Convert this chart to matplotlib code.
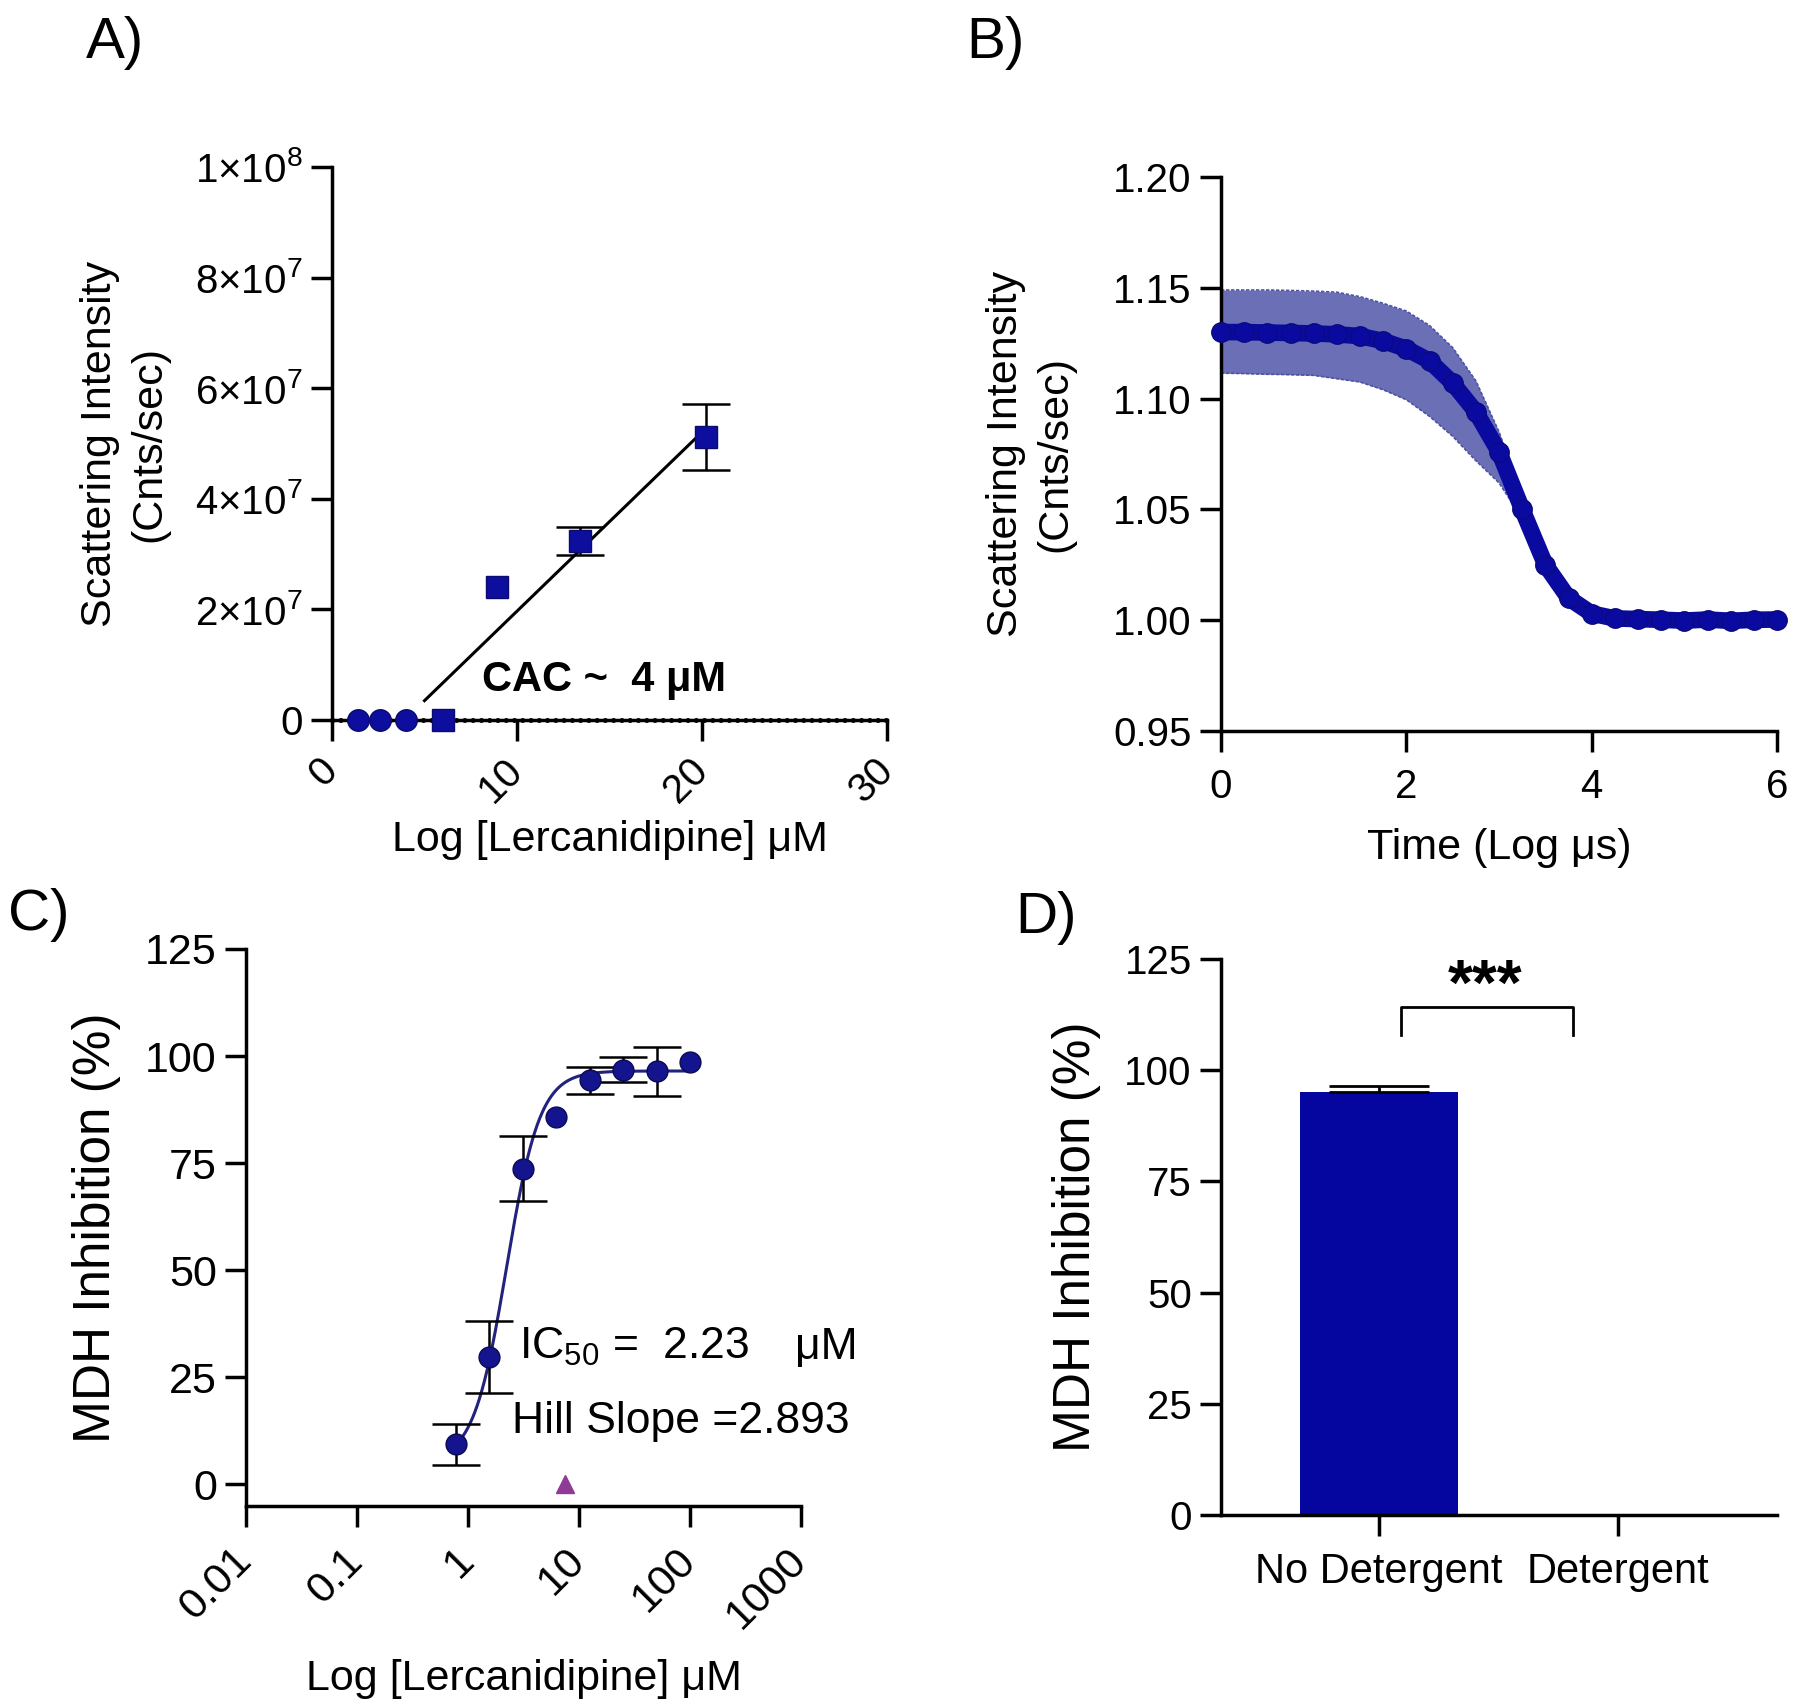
import matplotlib
matplotlib.use('Agg')
import matplotlib.pyplot as plt
import numpy as np

plt.rcParams['font.family'] = ['Liberation Sans', 'DejaVu Sans']
plt.rcParams['mathtext.fontset'] = 'custom'
plt.rcParams['mathtext.rm'] = 'Liberation Sans'
plt.rcParams['mathtext.it'] = 'Liberation Sans:italic'
plt.rcParams['mathtext.bf'] = 'Liberation Sans:bold'

# ---------------- data ----------------
# Panel A
A_circle_x = [1.4, 2.6, 4.0]
A_circle_y = [0.0, 0.0, 0.0]
A_square_x = [6.0, 8.9, 13.4, 20.2]
A_square_y = [0.0, 2.4e7, 3.24e7, 5.12e7]
A_square_err = [0.0, 0.0, 0.25e7, 0.6e7]
A_fit_x = [5.0, 19.8]
A_fit_y = [0.35e7, 5.14e7]
A_xticks = [0, 10, 20, 30]
A_yticks = [0, 2e7, 4e7, 6e7, 8e7, 1e8]
A_ytick_labels = ['0', r'2×10$^{\mathregular{7}}$', r'4×10$^{\mathregular{7}}$',
                  r'6×10$^{\mathregular{7}}$', r'8×10$^{\mathregular{7}}$', r'1×10$^{\mathregular{8}}$']

# Panel B
B_x = [0.0, 0.25, 0.5, 0.75, 1.0, 1.25, 1.5, 1.75, 2.0, 2.25, 2.5, 2.75, 3.0,
       3.25, 3.5, 3.75, 4.0, 4.25, 4.5, 4.75, 5.0, 5.25, 5.5, 5.75, 6.0]
B_mean = [1.130, 1.130, 1.1298, 1.1296, 1.1294, 1.129, 1.1282, 1.126, 1.1225, 1.117,
          1.107, 1.094, 1.076, 1.050, 1.025, 1.010, 1.003, 1.0008, 1.0005, 1.0002,
          0.9998, 1.0003, 0.9997, 1.0002, 1.0003]
B_band_x = [0.0, 0.25, 0.5, 0.75, 1.0, 1.25, 1.5, 1.75, 2.0, 2.25, 2.5, 2.75, 3.0, 3.25, 3.5]
B_upper = [1.149, 1.149, 1.149, 1.1488, 1.1485, 1.148, 1.146, 1.143, 1.1395, 1.133,
           1.123, 1.108, 1.085, 1.056, 1.027]
B_lower = [1.1115, 1.1113, 1.111, 1.1108, 1.1105, 1.109, 1.1075, 1.104, 1.0995, 1.092,
           1.083, 1.072, 1.062, 1.046, 1.023]
B_xticks = [0, 2, 4, 6]
B_yticks = [0.95, 1.00, 1.05, 1.10, 1.15, 1.20]
B_ytick_labels = ['0.95', '1.00', '1.05', '1.10', '1.15', '1.20']

# Panel C
C_x = [0.78, 1.56, 3.125, 6.25, 12.5, 25, 50, 100]
C_y = [9.3, 29.6, 73.7, 85.8, 94.3, 96.8, 96.4, 98.5]
C_err = [4.8, 8.4, 7.5, 0.0, 3.1, 2.9, 5.8, 0.0]
C_tri_x = [7.5]
C_tri_y = [0.0]
C_ic50 = 2.23
C_hill = 2.893
C_bottom = 5.0
C_top = 96.5
C_xticks = [0.01, 0.1, 1, 10, 100, 1000]
C_xtick_labels = ['0.01', '0.1', '1', '10', '100', '1000']
C_yticks = [0, 25, 50, 75, 100, 125]

# Panel D
D_categories = ['No Detergent', 'Detergent']
D_values = [95.0, 0.0]
D_err = [1.5, 0.0]
D_yticks = [0, 25, 50, 75, 100, 125]

# ---------------- styling ----------------
NAVY = '#0e0e9e'
W, H = 1800, 1700
fig = plt.figure(figsize=(18, 17), dpi=100)


def ax_at(left, top, right, bottom):
    return fig.add_axes([left / W, 1 - bottom / H, (right - left) / W, (bottom - top) / H])


def style(ax, labelsize=29):
    for s in ['top', 'right']:
        ax.spines[s].set_visible(False)
    for s in ['left', 'bottom']:
        ax.spines[s].set_linewidth(2.5)
    ax.tick_params(direction='out', length=15, width=2.5, labelsize=labelsize, pad=6)


def rot_labels(ax, size):
    for lab in ax.get_xticklabels():
        lab.set_rotation(45)
        lab.set_ha('right')
        lab.set_va('center')
        lab.set_rotation_mode('anchor')
        lab.set_fontsize(size)


def errbars(ax, x, y, e, **kw):
    xs = [a for a, c in zip(x, e) if c > 0]
    ys = [b for b, c in zip(y, e) if c > 0]
    es = [c for c in e if c > 0]
    ax.errorbar(xs, ys, yerr=es, fmt='none', ecolor='k', elinewidth=1.8,
                capsize=17, capthick=1.8, **kw)


# ---------------- Panel A ----------------
axA = ax_at(332, 167, 887, 720)
style(axA)
axA.set_xlim(0, 30)
axA.set_ylim(0, 1e8)
axA.plot([0, 30], [0, 0], color='k', lw=3.5, ls=(0, (0.1, 1.6)),
         dash_capstyle='round', clip_on=False, zorder=2.5)
axA.plot(A_fit_x, A_fit_y, color='k', lw=2.2, zorder=3)
errbars(axA, A_square_x, A_square_y, A_square_err, zorder=3.5, clip_on=False)
axA.plot(A_circle_x, A_circle_y, 'o', color=NAVY, ms=15.5, mec='#0a0a70', mew=1,
         clip_on=False, zorder=4)
axA.plot(A_square_x, A_square_y, 's', color=NAVY, ms=15.5, mec='#0a0a70', mew=1,
         clip_on=False, zorder=4)
axA.set_xticks(A_xticks)
axA.set_xticklabels([str(v) for v in A_xticks])
axA.set_yticks(A_yticks)
axA.set_yticklabels(A_ytick_labels)
axA.tick_params(axis='x', pad=17)
rot_labels(axA, 29)
axA.text(8.1, 0.72e7, 'CAC ~  4 μM', fontsize=30, fontweight='bold', va='center', ha='left')
axA.set_xlabel('Log [Lercanidipine] μM', fontsize=31)
axA.xaxis.set_label_coords(0.5, -0.18)
axA.set_ylabel('Scattering Intensity\n(Cnts/sec)', fontsize=31, linespacing=1.3)
axA.yaxis.set_label_coords(-0.293, 0.5)

# ---------------- Panel B ----------------
axB = ax_at(1221, 177, 1777, 731)
style(axB)
axB.set_xlim(0, 6)
axB.set_ylim(0.95, 1.20)
axB.fill_between(B_band_x, B_lower, B_upper, color='#6a6fb6', lw=0, zorder=2)
axB.plot(B_band_x, B_upper, color='#4c52a4', lw=1.2, ls=(0, (2, 1)), zorder=2.2)
axB.plot(B_band_x, B_lower, color='#4c52a4', lw=1.2, ls=(0, (2, 1)), zorder=2.2)
axB.plot(B_x, B_mean, '-o', color='#0a0aa0', lw=12, ms=14, mec='#0a0a80',
         solid_capstyle='round', solid_joinstyle='round', clip_on=False, zorder=3)
axB.set_xticks(B_xticks)
axB.set_yticks(B_yticks)
axB.set_yticklabels(B_ytick_labels)
axB.tick_params(axis='x', pad=12)
axB.set_xlabel('Time (Log μs)', fontsize=31)
axB.xaxis.set_label_coords(0.5, -0.175)
axB.set_ylabel('Scattering Intensity\n(Cnts/sec)', fontsize=31, linespacing=1.3)
axB.yaxis.set_label_coords(-0.262, 0.5)

# ---------------- Panel C ----------------
axC = ax_at(246, 949, 801, 1506)
style(axC, labelsize=31)
axC.set_xscale('log')
axC.set_xlim(0.01, 1000)
axC.set_ylim(-5.14, 125)
axC.xaxis.set_minor_locator(matplotlib.ticker.NullLocator())
xf = np.logspace(np.log10(C_x[0]), np.log10(C_x[-1]), 300)
yf = C_bottom + (C_top - C_bottom) / (1 + (C_ic50 / xf) ** C_hill)
axC.plot(xf, yf, color='#23237e', lw=2.2, zorder=3)
errbars(axC, C_x, C_y, C_err, zorder=3.5)
axC.plot(C_x, C_y, 'o', color='#14148e', ms=15, mec='#0a0a55', mew=1, zorder=4)
axC.plot(C_tri_x, C_tri_y, '^', color='#8e3a96', ms=13, clip_on=False, zorder=4)
axC.set_xticks(C_xticks)
axC.set_xticklabels(C_xtick_labels)
axC.set_yticks(C_yticks)
axC.tick_params(axis='x', pad=20)
rot_labels(axC, 31)
axC.text(2.89, 32, r'IC$_{\mathregular{50}}$ =  2.23', fontsize=32, va='center', ha='left')
axC.text(877, 32, 'μM', fontsize=32, va='center', ha='left')
axC.text(2.5, 14.7, 'Hill Slope =2.893', fontsize=32, va='center', ha='left')
axC.set_xlabel('Log [Lercanidipine] μM', fontsize=31)
axC.xaxis.set_label_coords(0.5, -0.275)
axC.set_ylabel('MDH Inhibition (%)', fontsize=37)
axC.yaxis.set_label_coords(-0.225, 0.5)

# ---------------- Panel D ----------------
axD = ax_at(1221, 959, 1777, 1515)
style(axD, labelsize=29)
pos = np.arange(len(D_categories))
axD.set_xlim(-0.661, 1.665)
axD.set_ylim(0, 125)
axD.bar(pos, D_values, width=0.665, color='#0505a0', zorder=2)
axD.errorbar(pos[:1], D_values[:1], yerr=[[0], D_err[:1]], fmt='none', ecolor='k',
             elinewidth=2, capsize=36, capthick=2, zorder=3)
axD.set_xticks(pos)
axD.set_xticklabels(D_categories, fontsize=30)
axD.set_yticks(D_yticks)
axD.tick_params(axis='x', pad=12)
axD.plot([0.09, 0.09, 0.81, 0.81], [108, 114.3, 114.3, 108], color='k', lw=2, clip_on=False)
axD.text(0.445, 114.8, '***', fontsize=46, fontweight='bold', ha='center', va='baseline')
axD.set_ylabel('MDH Inhibition (%)', fontsize=37)
axD.yaxis.set_label_coords(-0.216, 0.5)

# ---------------- panel letters ----------------
for lx, ly, s in [(86, 43, 'A)'), (966, 43, 'B)'), (8, 915, 'C)'), (1015, 918, 'D)')]:
    fig.text(lx / W, 1 - ly / H, s, fontsize=42, ha='left', va='center')

fig.savefig('out.png', dpi=100)
